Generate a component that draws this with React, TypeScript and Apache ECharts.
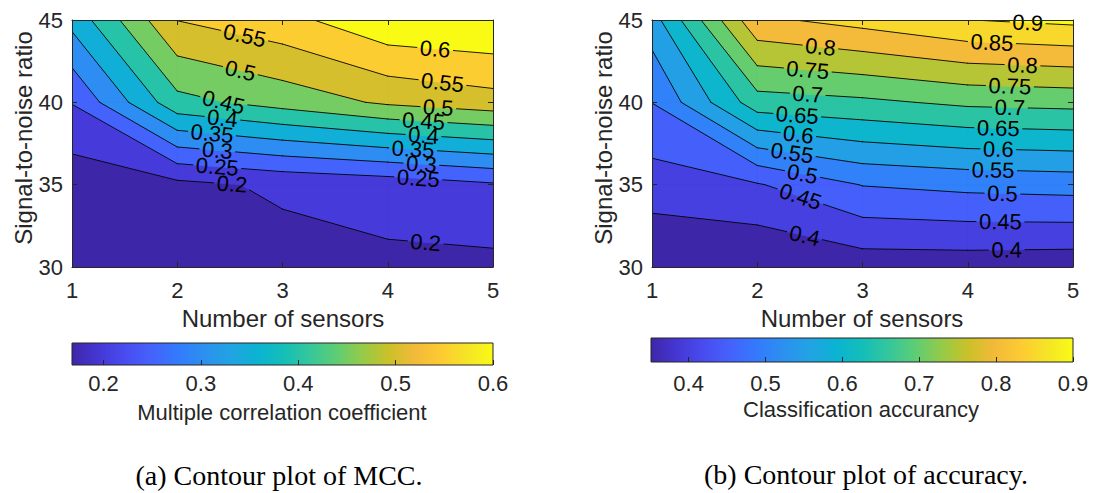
import React, { useEffect, useRef } from 'react';
import * as echarts from 'echarts';

// ---------- data ----------
const sensors = [1, 2, 3, 4, 5];
const snrLevels = [30, 35, 40, 45];

// Multiple correlation coefficient, one row per SNR level (30, 35, 40, 45), columns = sensors 1..5
const mccAtSnr30 = [0.1676, 0.175, 0.1794, 0.189, 0.187];
const mccAtSnr35 = [0.169, 0.187, 0.2087, 0.2216, 0.244];
const mccAtSnr40 = [0.252, 0.434, 0.47, 0.508, 0.53];
const mccAtSnr45 = [0.366, 0.551, 0.583, 0.64, 0.649];
const mccContourLevels = [0.2, 0.25, 0.3, 0.35, 0.4, 0.45, 0.5, 0.55, 0.6];
const mccColorLimits = [0.1676, 0.6];
const mccColorTicks = [0.2, 0.3, 0.4, 0.5, 0.6];
const mccLabelLevels = [0.55, 0.5, 0.45, 0.4, 0.35, 0.3, 0.25, 0.2, 0.6, 0.55, 0.5, 0.45, 0.4, 0.35, 0.3, 0.25, 0.2];
const mccLabelSensors = [2.64, 2.6, 2.44, 2.43, 2.33, 2.38, 2.38, 2.52, 4.45, 4.52, 4.48, 4.34, 4.34, 4.24, 4.32, 4.29, 4.36];

// Classification accuracy
const accAtSnr30 = [0.351, 0.352, 0.371, 0.371, 0.367];
const accAtSnr35 = [0.426, 0.446, 0.502, 0.514, 0.52];
const accAtSnr40 = [0.5007, 0.678, 0.69, 0.71, 0.716];
const accAtSnr45 = [0.578, 0.84, 0.868, 0.8995, 0.912];
const accContourLevels = [0.4, 0.45, 0.5, 0.55, 0.6, 0.65, 0.7, 0.75, 0.8, 0.85, 0.9];
const accColorLimits = [0.351, 0.9];
const accColorTicks = [0.4, 0.5, 0.6, 0.7, 0.8, 0.9];
const accLabelLevels = [0.8, 0.75, 0.7, 0.65, 0.6, 0.55, 0.5, 0.45, 0.4, 0.9, 0.85, 0.8, 0.75, 0.7, 0.65, 0.6, 0.55, 0.5, 0.45, 0.4];
const accLabelSensors = [2.6, 2.48, 2.48, 2.38, 2.39, 2.33, 2.43, 2.41, 2.45, 4.57, 4.23, 4.52, 4.4, 4.4, 4.29, 4.29, 4.24, 4.33, 4.31, 4.37];

// parula colormap samples
const PARULA = [
  [62, 38, 168], [69, 55, 213], [72, 76, 240], [69, 98, 252], [51, 122, 253], [44, 144, 240],
  [33, 163, 227], [11, 179, 210], [20, 190, 184], [53, 199, 155], [94, 205, 116], [150, 202, 72],
  [203, 193, 40], [243, 186, 57], [253, 203, 50], [245, 229, 38], [249, 251, 21],
];
const PARULA_POS = PARULA.map((_, k) => (k === PARULA.length - 1 ? 1 : (k * 16) / 255));

const FONT = "'Liberation Sans', Arial, Helvetica, sans-serif";
const SERIF = "'Liberation Serif', 'Times New Roman', serif";
const AX = '#262626';
const LABEL_SIZE = 22;

function parula(t: number): string {
  const u = Math.max(0, Math.min(1, t));
  let k = 0;
  while (k < PARULA_POS.length - 2 && u > PARULA_POS[k + 1]) k++;
  const f = (u - PARULA_POS[k]) / (PARULA_POS[k + 1] - PARULA_POS[k]);
  const a = PARULA[k], b = PARULA[k + 1];
  const c = [0, 1, 2].map((i) => Math.round(a[i] + f * (b[i] - a[i])));
  return `rgb(${c[0]},${c[1]},${c[2]})`;
}

type Pt = [number, number];
interface Corner { p: Pt; v: number; }
interface ContourCfg { z: number[][]; levels: number[]; clim: number[]; labelLevels: number[]; labelX: number[]; }

const mccCfg: ContourCfg = {
  z: [mccAtSnr30, mccAtSnr35, mccAtSnr40, mccAtSnr45],
  levels: mccContourLevels, clim: mccColorLimits, labelLevels: mccLabelLevels, labelX: mccLabelSensors,
};
const accCfg: ContourCfg = {
  z: [accAtSnr30, accAtSnr35, accAtSnr40, accAtSnr45],
  levels: accContourLevels, clim: accColorLimits, labelLevels: accLabelLevels, labelX: accLabelSensors,
};

function colorFor(v: number, clim: number[]) {
  return parula((v - clim[0]) / (clim[1] - clim[0]));
}

function cellCorners(z: number[][], i: number, j: number): Corner[] {
  return [
    { p: [sensors[i], snrLevels[j]], v: z[j][i] },
    { p: [sensors[i + 1], snrLevels[j]], v: z[j][i + 1] },
    { p: [sensors[i + 1], snrLevels[j + 1]], v: z[j + 1][i + 1] },
    { p: [sensors[i], snrLevels[j + 1]], v: z[j + 1][i] },
  ];
}
function cross(a: Corner, b: Corner, t: number): Pt {
  const f = (t - a.v) / (b.v - a.v);
  return [a.p[0] + f * (b.p[0] - a.p[0]), a.p[1] + f * (b.p[1] - a.p[1])];
}
function clipCell(c: Corner[], t: number): Pt[] {
  const out: Pt[] = [];
  for (let k = 0; k < 4; k++) {
    const a = c[k], b = c[(k + 1) % 4];
    const ia = a.v >= t, ib = b.v >= t;
    if (ia) out.push(a.p);
    if (ia !== ib) out.push(cross(a, b, t));
  }
  return out;
}
function cellSegments(c: Corner[], t: number): [Pt, Pt][] {
  const xs: { pt: Pt; exit: boolean }[] = [];
  for (let k = 0; k < 4; k++) {
    const a = c[k], b = c[(k + 1) % 4];
    const ia = a.v >= t, ib = b.v >= t;
    if (ia && !ib) xs.push({ pt: cross(a, b, t), exit: true });
    if (!ia && ib) xs.push({ pt: cross(a, b, t), exit: false });
  }
  const segs: [Pt, Pt][] = [];
  for (let m = 0; m < xs.length; m++) {
    if (xs[m].exit) segs.push([xs[m].pt, xs[(m + 1) % xs.length].pt]);
  }
  return segs;
}
function levelSegments(z: number[][], t: number): [Pt, Pt][] {
  const segs: [Pt, Pt][] = [];
  for (let j = 0; j < snrLevels.length - 1; j++)
    for (let i = 0; i < sensors.length - 1; i++) segs.push(...cellSegments(cellCorners(z, i, j), t));
  return segs;
}

function labelText(v: number) { return String(v); }
function labelWidth(s: string) {
  let w = 0;
  for (const ch of s) w += ch === '.' ? 0.278 : 0.556;
  return w * LABEL_SIZE;
}

function labelGeom(cfg: ContourCfg, api: any, idx: number) {
  const L = cfg.labelLevels[idx];
  const xl = cfg.labelX[idx];
  const segs = levelSegments(cfg.z, L);
  for (const [a, b] of segs) {
    const lo = Math.min(a[0], b[0]), hi = Math.max(a[0], b[0]);
    if (hi > lo && xl >= lo && xl <= hi) {
      const f = (xl - a[0]) / (b[0] - a[0]);
      const y = a[1] + f * (b[1] - a[1]);
      const c = api.coord([xl, y]);
      const pa = api.coord(a), pb = api.coord(b);
      let dx = pb[0] - pa[0], dy = pb[1] - pa[1];
      if (dx < 0) { dx = -dx; dy = -dy; }
      const text = labelText(L);
      return { c, angle: Math.atan2(dy, dx), text, r: labelWidth(text) / 2 + 3 };
    }
  }
  return null;
}

function contourSeries(cfg: ContourCfg, xi: number, yi: number): any[] {
  const bands = [cfg.clim[0], ...cfg.levels];
  const fill = {
    type: 'custom', xAxisIndex: xi, yAxisIndex: yi, silent: true, clip: true, z: 2,
    data: bands.map((_, k) => [sensors[0], snrLevels[0], k]),
    encode: { x: 0, y: 1 },
    renderItem: (_p: any, api: any) => {
      const k = api.value(2) as number;
      if (k === 0) {
        const p0 = api.coord([sensors[0], snrLevels[0]]);
        const p1 = api.coord([sensors[sensors.length - 1], snrLevels[snrLevels.length - 1]]);
        const col = colorFor(cfg.clim[0], cfg.clim);
        return { type: 'rect', shape: { x: p0[0], y: p1[1], width: p1[0] - p0[0], height: p0[1] - p1[1] }, style: { fill: col } };
      }
      const t = cfg.levels[k - 1];
      const col = colorFor(t, cfg.clim);
      const children: any[] = [];
      for (let j = 0; j < snrLevels.length - 1; j++)
        for (let i = 0; i < sensors.length - 1; i++) {
          const poly = clipCell(cellCorners(cfg.z, i, j), t);
          if (poly.length >= 3)
            children.push({ type: 'polygon', shape: { points: poly.map((p) => api.coord(p)) }, style: { fill: col, stroke: col, lineWidth: 0.7 } });
        }
      return { type: 'group', children };
    },
  };
  const lines = {
    type: 'custom', xAxisIndex: xi, yAxisIndex: yi, silent: true, clip: true, z: 3,
    data: cfg.levels.map((_, k) => [sensors[0], snrLevels[0], k]),
    encode: { x: 0, y: 1 },
    renderItem: (_p: any, api: any) => {
      const L = cfg.levels[api.value(2) as number];
      const gaps: any[] = [];
      cfg.labelLevels.forEach((lv, idx) => {
        if (lv === L) { const g = labelGeom(cfg, api, idx); if (g) gaps.push(g); }
      });
      const children: any[] = [];
      for (const [a, b] of levelSegments(cfg.z, L)) {
        const A = api.coord(a), B = api.coord(b);
        const dx = B[0] - A[0], dy = B[1] - A[1];
        let keep: number[][] = [[0, 1]];
        for (const g of gaps) {
          const fx = A[0] - g.c[0], fy = A[1] - g.c[1];
          const qa = dx * dx + dy * dy, qb = 2 * (fx * dx + fy * dy), qc = fx * fx + fy * fy - g.r * g.r;
          const disc = qb * qb - 4 * qa * qc;
          if (qa === 0 || disc <= 0) continue;
          const s = Math.sqrt(disc);
          const t1 = (-qb - s) / (2 * qa), t2 = (-qb + s) / (2 * qa);
          const next: number[][] = [];
          for (const [u0, u1] of keep) {
            if (t2 <= u0 || t1 >= u1) { next.push([u0, u1]); continue; }
            if (t1 > u0) next.push([u0, t1]);
            if (t2 < u1) next.push([t2, u1]);
          }
          keep = next;
        }
        for (const [u0, u1] of keep) {
          if (u1 - u0 < 1e-4) continue;
          children.push({
            type: 'line',
            shape: { x1: A[0] + u0 * dx, y1: A[1] + u0 * dy, x2: A[0] + u1 * dx, y2: A[1] + u1 * dy },
            style: { stroke: '#000', lineWidth: 0.9, lineCap: 'round' },
          });
        }
      }
      return { type: 'group', children };
    },
  };
  const labels = {
    type: 'custom', xAxisIndex: xi, yAxisIndex: yi, silent: true, clip: false, z: 4,
    data: cfg.labelLevels.map((_, k) => [sensors[0], snrLevels[0], k]),
    encode: { x: 0, y: 1 },
    renderItem: (_p: any, api: any) => {
      const g = labelGeom(cfg, api, api.value(2) as number);
      if (!g) return { type: 'group', children: [] };
      return {
        type: 'text', x: g.c[0], y: g.c[1], rotation: -g.angle,
        style: {
          text: g.text, fontSize: LABEL_SIZE, fontFamily: FONT, fill: '#000',
          align: 'center', verticalAlign: 'middle', textAlign: 'center', textVerticalAlign: 'middle',
        },
      };
    },
  };
  return [fill, lines, labels];
}

function colorbarSeries(clim: number[], xi: number, yi: number) {
  return {
    type: 'custom', xAxisIndex: xi, yAxisIndex: yi, silent: true, clip: false, z: 2,
    data: [[clim[0], 0]],
    encode: { x: 0, y: 1 },
    renderItem: (_p: any, api: any) => {
      const p0 = api.coord([clim[0], 0]);
      const p1 = api.coord([clim[1], 1]);
      const stops = PARULA.map((c, k) => ({ offset: PARULA_POS[k], color: `rgb(${c[0]},${c[1]},${c[2]})` }));
      return {
        type: 'rect',
        shape: { x: p0[0], y: p1[1], width: p1[0] - p0[0], height: p0[1] - p1[1] },
        style: { fill: new echarts.graphic.LinearGradient(0, 0, 1, 0, stops), stroke: AX, lineWidth: 1 },
      };
    },
  };
}

function mainXAxes(gridIndex: number) {
  const common = {
    type: 'value', gridIndex, min: 1, max: 5, interval: 1, z: 5,
    axisLine: { show: true, onZero: false, lineStyle: { color: AX, width: 1 } },
    axisTick: { show: true, inside: true, length: 5, lineStyle: { color: AX } },
    splitLine: { show: false },
  };
  return [
    { ...common, position: 'bottom', axisLabel: { show: true, margin: 12, fontSize: 22, color: AX, fontFamily: FONT } },
    { ...common, position: 'top', axisLabel: { show: false } },
  ];
}
function mainYAxes(gridIndex: number) {
  const common = {
    type: 'value', gridIndex, min: 30, max: 45, interval: 5, z: 5,
    axisLine: { show: true, onZero: false, lineStyle: { color: AX, width: 1 } },
    axisTick: { show: true, inside: true, length: 5, lineStyle: { color: AX } },
    splitLine: { show: false },
  };
  return [
    { ...common, position: 'left', axisLabel: { show: true, margin: 9, fontSize: 22, color: AX, fontFamily: FONT } },
    { ...common, position: 'right', axisLabel: { show: false } },
  ];
}
function cbXAxis(gridIndex: number, clim: number[], ticks: number[], margin: number) {
  return {
    type: 'value', gridIndex, min: clim[0], max: clim[1], position: 'bottom', z: 5,
    axisLine: { show: false },
    axisTick: { show: true, inside: true, length: 5, customValues: ticks, lineStyle: { color: AX } },
    axisLabel: { show: true, customValues: ticks, margin, fontSize: 22, color: AX, fontFamily: FONT, formatter: (v: number) => String(v) },
    splitLine: { show: false },
  };
}

function txt(text: string, x: number, y: number, size: number, family: string, fill: string, rotation = 0) {
  return {
    type: 'text', x, y, rotation, silent: true,
    style: { text, fontSize: size, fontFamily: family, fill, align: 'center', verticalAlign: 'middle', textAlign: 'center', textVerticalAlign: 'middle' },
  };
}

export default function App() {
  const ref = useRef<HTMLDivElement>(null);
  useEffect(() => {
    if (!ref.current) return;
    const chart = echarts.init(ref.current, undefined, { renderer: 'svg' });
    const option: any = {
      animation: false,
      backgroundColor: '#ffffff',
      grid: [
        { left: 72, top: 20, width: 421, height: 247 },
        { left: 652, top: 20, width: 421, height: 247 },
        { left: 72, top: 343, width: 421, height: 22 },
        { left: 651, top: 338, width: 422, height: 24 },
      ],
      xAxis: [
        ...mainXAxes(0),
        ...mainXAxes(1),
        cbXAxis(2, mccColorLimits, mccColorTicks, 7),
        cbXAxis(3, accColorLimits, accColorTicks, 10),
      ],
      yAxis: [
        ...mainYAxes(0),
        ...mainYAxes(1),
        { type: 'value', gridIndex: 2, min: 0, max: 1, show: false },
        { type: 'value', gridIndex: 3, min: 0, max: 1, show: false },
      ],
      series: [
        ...contourSeries(mccCfg, 0, 0),
        ...contourSeries(accCfg, 2, 2),
        colorbarSeries(mccColorLimits, 4, 4),
        colorbarSeries(accColorLimits, 5, 5),
      ],
      graphic: [
        txt('Number of sensors', 283, 318, 24, FONT, AX),
        txt('Number of sensors', 862, 318, 24, FONT, AX),
        txt('Signal-to-noise ratio', 23, 138, 24, FONT, AX, Math.PI / 2),
        txt('Signal-to-noise ratio', 603, 138, 24, FONT, AX, Math.PI / 2),
        txt('Multiple correlation coefficient', 282, 412, 22, FONT, AX),
        txt('Classification accurancy', 861, 409, 22, FONT, AX),
        txt('(a) Contour plot of MCC.', 279, 475, 28, SERIF, '#000'),
        txt('(b) Contour plot of accuracy.', 866, 474, 28, SERIF, '#000'),
      ],
    };
    chart.setOption(option);
    return () => chart.dispose();
  }, []);
  return <div ref={ref} style={{ position: 'absolute', left: 0, top: 0, width: 1094, height: 493 }} />;
}
